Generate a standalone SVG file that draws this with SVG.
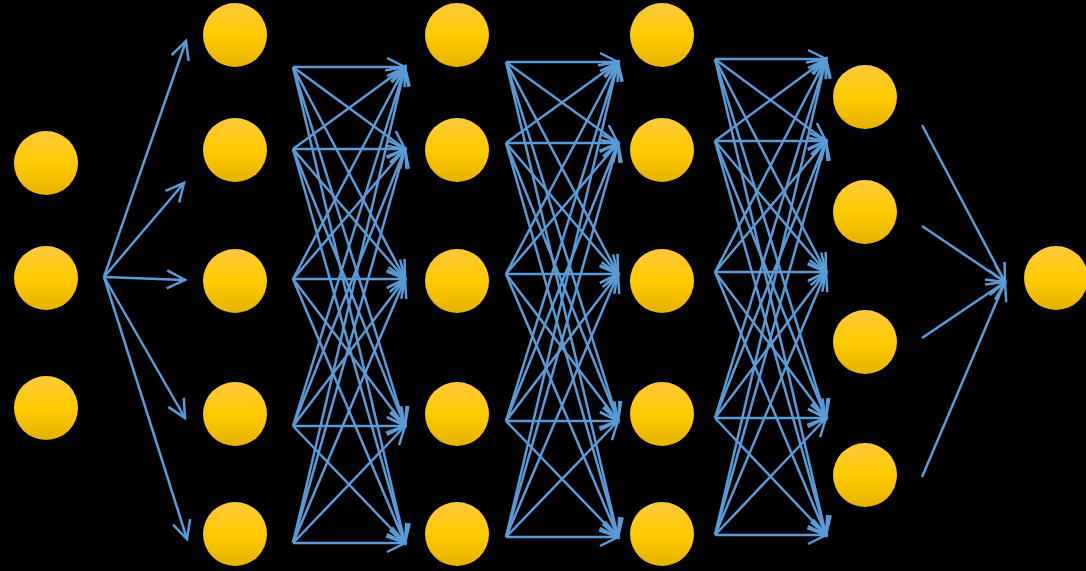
<svg xmlns="http://www.w3.org/2000/svg" width="1086" height="571" viewBox="0 0 1086 571">
<style>
.c{fill:url(#g)}
.e line{stroke:#5B9BD5;stroke-width:2.5;fill:none;marker-end:url(#a)}
</style>
<defs>
<linearGradient id="g" x1="0" y1="0" x2="0" y2="1">
<stop offset="0" stop-color="#FFC83F"/>
<stop offset="0.5" stop-color="#FFCC00"/>
<stop offset="1" stop-color="#E5B200"/>
</linearGradient>
<marker id="a" markerUnits="userSpaceOnUse" markerWidth="30" markerHeight="30" refX="20" refY="10" orient="auto" overflow="visible">
<path d="M2,1 L20,10 L2,19" fill="none" stroke="#5B9BD5" stroke-width="2.5"/>
</marker>
</defs>
<rect width="1086" height="571" fill="#000"/>
<g id="l0">
<circle id="n0_0" class="c" cx="46" cy="163" r="32"/>
<circle id="n0_1" class="c" cx="46" cy="278" r="32"/>
<circle id="n0_2" class="c" cx="46" cy="408" r="32"/>
</g>
<g id="l1">
<circle id="n1_0" class="c" cx="235" cy="35" r="32"/>
<circle id="n1_1" class="c" cx="235" cy="150" r="32"/>
<circle id="n1_2" class="c" cx="235" cy="281" r="32"/>
<circle id="n1_3" class="c" cx="235" cy="414" r="32"/>
<circle id="n1_4" class="c" cx="235" cy="534" r="32"/>
</g>
<g id="l2">
<circle id="n2_0" class="c" cx="457" cy="35" r="32"/>
<circle id="n2_1" class="c" cx="457" cy="150" r="32"/>
<circle id="n2_2" class="c" cx="457" cy="281" r="32"/>
<circle id="n2_3" class="c" cx="457" cy="414" r="32"/>
<circle id="n2_4" class="c" cx="457" cy="534" r="32"/>
</g>
<g id="l3">
<circle id="n3_0" class="c" cx="662" cy="35" r="32"/>
<circle id="n3_1" class="c" cx="662" cy="150" r="32"/>
<circle id="n3_2" class="c" cx="662" cy="281" r="32"/>
<circle id="n3_3" class="c" cx="662" cy="414" r="32"/>
<circle id="n3_4" class="c" cx="662" cy="534" r="32"/>
</g>
<g id="l4">
<circle id="n4_0" class="c" cx="865" cy="97" r="32"/>
<circle id="n4_1" class="c" cx="865" cy="212" r="32"/>
<circle id="n4_2" class="c" cx="865" cy="342" r="32"/>
<circle id="n4_3" class="c" cx="865" cy="475" r="32"/>
</g>
<g id="l5">
<circle id="n5_0" class="c" cx="1056" cy="278" r="32"/>
</g>
<g id="connectors" class="e">
<line x1="104" y1="277" x2="186" y2="41"/>
<line x1="104" y1="277" x2="184" y2="183"/>
<line x1="104" y1="277" x2="185" y2="280"/>
<line x1="104" y1="277" x2="185" y2="418"/>
<line x1="104" y1="277" x2="187" y2="539"/>

<line x1="293" y1="67" x2="405" y2="67"/>
<line x1="293" y1="67" x2="405" y2="149"/>
<line x1="293" y1="67" x2="405" y2="279"/>
<line x1="293" y1="67" x2="405" y2="426"/>
<line x1="293" y1="67" x2="405" y2="543"/>
<line x1="293" y1="149" x2="405" y2="67"/>
<line x1="293" y1="149" x2="405" y2="149"/>
<line x1="293" y1="149" x2="405" y2="279"/>
<line x1="293" y1="149" x2="405" y2="426"/>
<line x1="293" y1="149" x2="405" y2="543"/>
<line x1="293" y1="279" x2="405" y2="67"/>
<line x1="293" y1="279" x2="405" y2="149"/>
<line x1="293" y1="279" x2="405" y2="279"/>
<line x1="293" y1="279" x2="405" y2="426"/>
<line x1="293" y1="279" x2="405" y2="543"/>
<line x1="293" y1="426" x2="405" y2="67"/>
<line x1="293" y1="426" x2="405" y2="149"/>
<line x1="293" y1="426" x2="405" y2="279"/>
<line x1="293" y1="426" x2="405" y2="426"/>
<line x1="293" y1="426" x2="405" y2="543"/>
<line x1="293" y1="543" x2="405" y2="67"/>
<line x1="293" y1="543" x2="405" y2="149"/>
<line x1="293" y1="543" x2="405" y2="279"/>
<line x1="293" y1="543" x2="405" y2="426"/>
<line x1="293" y1="543" x2="405" y2="543"/>

<line x1="506" y1="62" x2="618" y2="62"/>
<line x1="506" y1="62" x2="618" y2="143"/>
<line x1="506" y1="62" x2="618" y2="274"/>
<line x1="506" y1="62" x2="618" y2="421"/>
<line x1="506" y1="62" x2="618" y2="537"/>
<line x1="506" y1="143" x2="618" y2="62"/>
<line x1="506" y1="143" x2="618" y2="143"/>
<line x1="506" y1="143" x2="618" y2="274"/>
<line x1="506" y1="143" x2="618" y2="421"/>
<line x1="506" y1="143" x2="618" y2="537"/>
<line x1="506" y1="274" x2="618" y2="62"/>
<line x1="506" y1="274" x2="618" y2="143"/>
<line x1="506" y1="274" x2="618" y2="274"/>
<line x1="506" y1="274" x2="618" y2="421"/>
<line x1="506" y1="274" x2="618" y2="537"/>
<line x1="506" y1="421" x2="618" y2="62"/>
<line x1="506" y1="421" x2="618" y2="143"/>
<line x1="506" y1="421" x2="618" y2="274"/>
<line x1="506" y1="421" x2="618" y2="421"/>
<line x1="506" y1="421" x2="618" y2="537"/>
<line x1="506" y1="537" x2="618" y2="62"/>
<line x1="506" y1="537" x2="618" y2="143"/>
<line x1="506" y1="537" x2="618" y2="274"/>
<line x1="506" y1="537" x2="618" y2="421"/>
<line x1="506" y1="537" x2="618" y2="537"/>

<line x1="715" y1="59" x2="826" y2="59"/>
<line x1="715" y1="59" x2="826" y2="141"/>
<line x1="715" y1="59" x2="826" y2="272"/>
<line x1="715" y1="59" x2="826" y2="418"/>
<line x1="715" y1="59" x2="826" y2="535"/>
<line x1="715" y1="141" x2="826" y2="59"/>
<line x1="715" y1="141" x2="826" y2="141"/>
<line x1="715" y1="141" x2="826" y2="272"/>
<line x1="715" y1="141" x2="826" y2="418"/>
<line x1="715" y1="141" x2="826" y2="535"/>
<line x1="715" y1="272" x2="826" y2="59"/>
<line x1="715" y1="272" x2="826" y2="141"/>
<line x1="715" y1="272" x2="826" y2="272"/>
<line x1="715" y1="272" x2="826" y2="418"/>
<line x1="715" y1="272" x2="826" y2="535"/>
<line x1="715" y1="418" x2="826" y2="59"/>
<line x1="715" y1="418" x2="826" y2="141"/>
<line x1="715" y1="418" x2="826" y2="272"/>
<line x1="715" y1="418" x2="826" y2="418"/>
<line x1="715" y1="418" x2="826" y2="535"/>
<line x1="715" y1="535" x2="826" y2="59"/>
<line x1="715" y1="535" x2="826" y2="141"/>
<line x1="715" y1="535" x2="826" y2="272"/>
<line x1="715" y1="535" x2="826" y2="418"/>
<line x1="715" y1="535" x2="826" y2="535"/>

<line x1="922" y1="125" x2="1005" y2="282"/>
<line x1="922" y1="226" x2="1005" y2="282"/>
<line x1="922" y1="338" x2="1005" y2="282"/>
<line x1="922" y1="477" x2="1005" y2="282"/>
</g>
</svg>
